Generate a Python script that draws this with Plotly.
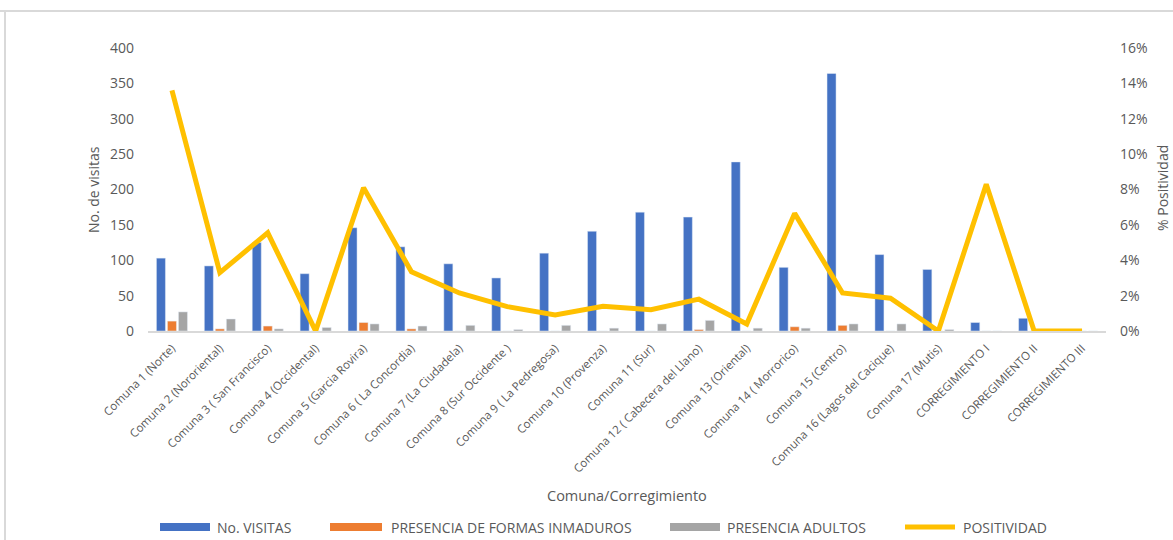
import plotly.graph_objects as go

# Comunas / corregimientos
categorias = [
    "Comuna 1 (Norte)", "Comuna 2 (Nororiental)", "Comuna 3 ( San Francisco)",
    "Comuna 4 (Occidental)", "Comuna 5 (Garcia Rovira)", "Comuna 6 ( La Concordia)",
    "Comuna 7 (La Ciudadela)", "Comuna 8 (Sur Occidente )", "Comuna 9 ( La Pedregosa)",
    "Comuna 10 (Provenza)", "Comuna 11 (Sur)", "Comuna 12 ( Cabecera del Llano)",
    "Comuna 13 (Oriental)", "Comuna 14 ( Morrorico)", "Comuna 15 (Centro)",
    "Comuna 16 (Lagos del Cacique)", "Comuna 17 (Mutis)", "CORREGIMIENTO I",
    "CORREGIMIENTO II", "CORREGIMIENTO III",
]

visitas = [103, 92, 125, 81, 146, 119, 95, 75, 110, 141, 168, 161, 239, 90, 364, 108, 87, 12, 18, 0]
formas_inmaduras = [14, 3, 7, 0, 12, 3, 0, 0, 0, 0, 0, 2, 0, 6, 8, 0, 0, 0, 0, 0]
adultos = [27, 17, 3, 5, 10, 7, 8, 2, 8, 4, 10, 15, 4, 4, 10, 10, 2, 0, 0, 0]
positividad = [0.136, 0.033, 0.0555, 0.0, 0.081, 0.0335, 0.0215, 0.0138, 0.009, 0.014,
               0.012, 0.018, 0.004, 0.0665, 0.0215, 0.0185, 0.0, 0.083, 0.0, 0.0]

series = ["No. VISITAS", "PRESENCIA DE FORMAS INMADUROS", "PRESENCIA ADULTOS", "POSITIVIDAD"]

AZUL = "#4472C4"
NARANJA = "#ED7D31"
GRIS = "#A5A5A5"
AMARILLO = "#FFC000"
TEXTO = "#595959"
MARCO = "#D9D9D9"
FUENTE = "'Open Sans', sans-serif"

# Geometría del área de trazado (px)
W, H = 1173, 540
L, R, T, B = 148, 67, 48, 209
PW, PH = W - L - R, H - T - B


def px(x):
    """Posición horizontal en px -> coordenada 'paper'."""
    return (x - L) / PW


def py(y):
    """Posición vertical en px (desde arriba) -> coordenada 'paper'."""
    return (H - B - y) / PH


fig = go.Figure()
fig.add_trace(go.Bar(x=categorias, y=visitas, name=series[0], marker_color=AZUL))
fig.add_trace(go.Bar(x=categorias, y=formas_inmaduras, name=series[1], marker_color=NARANJA))
fig.add_trace(go.Bar(x=categorias, y=adultos, name=series[2], marker_color=GRIS))
fig.add_trace(go.Scatter(x=categorias, y=positividad, name=series[3], mode="lines",
                         line=dict(color=AMARILLO, width=5), yaxis="y2"))

# Leyenda inferior: claves anchas como en Excel
leyenda = [
    (series[0], AZUL, 160, 210, 215),
    (series[1], NARANJA, 330, 382, 389),
    (series[2], GRIS, 670, 720, 725),
    (series[3], AMARILLO, 905, 955, 961),
]
shapes = [
    dict(type="line", xref="paper", yref="paper", x0=px(0), x1=px(W), y0=py(11), y1=py(11),
         line=dict(color=MARCO, width=2)),
    dict(type="line", xref="paper", yref="paper", x0=px(5), x1=px(5), y0=py(11), y1=py(H),
         line=dict(color=MARCO, width=2)),
]
annotations = []
for nombre, color, x0, x1, xt in leyenda:
    if color == AMARILLO:
        shapes.append(dict(type="line", xref="paper", yref="paper", x0=px(x0), x1=px(x1),
                           y0=py(527), y1=py(527), line=dict(color=color, width=5)))
    else:
        shapes.append(dict(type="rect", xref="paper", yref="paper", x0=px(x0), x1=px(x1),
                           y0=py(523), y1=py(531), line=dict(width=0), fillcolor=color))
    annotations.append(dict(text=nombre, xref="paper", yref="paper", x=px(xt), y=py(527),
                            xanchor="left", yanchor="middle", showarrow=False,
                            font=dict(size=14, color=TEXTO, family=FUENTE)))

# Títulos de ejes
annotations += [
    dict(text="Comuna/Corregimiento", xref="paper", yref="paper", x=px(627), y=py(495),
         xanchor="center", yanchor="middle", showarrow=False,
         font=dict(size=14.5, color=TEXTO, family=FUENTE)),
    dict(text="No. de visitas", xref="paper", yref="paper", x=px(93), y=py(190),
         xanchor="center", yanchor="middle", textangle=-90, showarrow=False,
         font=dict(size=14, color=TEXTO, family=FUENTE)),
    dict(text="% Positividad", xref="paper", yref="paper", x=px(1162), y=py(188),
         xanchor="center", yanchor="middle", textangle=-90, showarrow=False,
         font=dict(size=14, color=TEXTO, family=FUENTE)),
]

fig.update_layout(
    width=W, height=H,
    margin=dict(l=L, r=R, t=T, b=B, autoexpand=False),
    paper_bgcolor="white", plot_bgcolor="white",
    font=dict(family=FUENTE, color=TEXTO, size=12),
    barmode="group", bargap=0.31, bargroupgap=0.18,
    showlegend=False,
    xaxis=dict(
        tickangle=-45, tickfont=dict(size=11.5, color=TEXTO),
        showline=True, linecolor=MARCO, linewidth=2, showgrid=False,
        ticks="", automargin=False, ticklabelstandoff=4,
    ),
    yaxis=dict(
        range=[0, 400], dtick=50, showgrid=False, zeroline=False,
        tickfont=dict(size=14, color=TEXTO), ticks="", ticklabelstandoff=13,
        automargin=False,
    ),
    yaxis2=dict(
        range=[0, 0.16], dtick=0.02, tickformat=".0%", overlaying="y", side="right",
        showgrid=False, zeroline=False, tickfont=dict(size=14, color=TEXTO),
        ticks="", ticklabelstandoff=13, automargin=False,
    ),
    shapes=shapes,
    annotations=annotations,
)

fig.write_html("out.html")
